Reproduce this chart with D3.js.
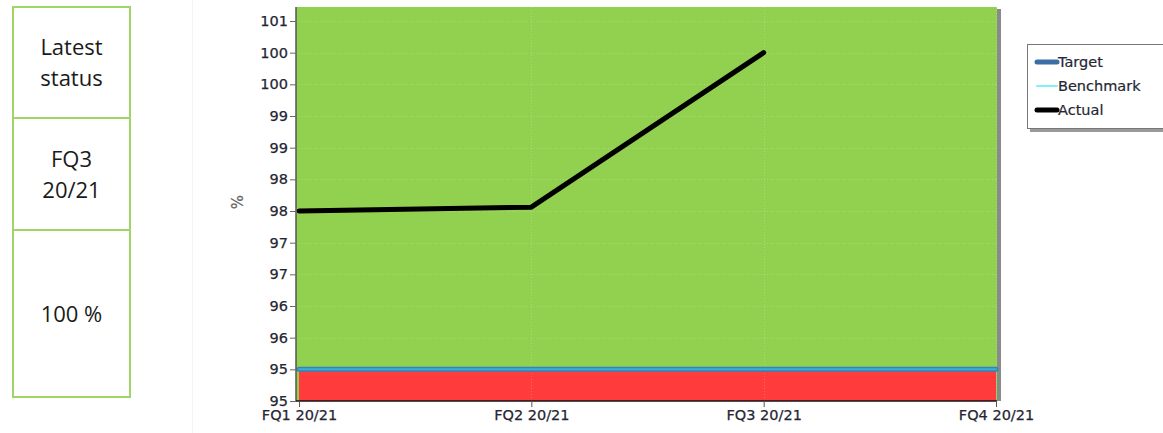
<!DOCTYPE html>
<html>
<head>
<meta charset="utf-8">
<script src="https://cdn.jsdelivr.net/npm/d3@7/dist/d3.min.js"></script>
<style>
  html, body { margin: 0; padding: 0; background: #fff; }
  svg { display: block; }
</style>
</head>
<body>
<svg id="chart" width="1163" height="433"></svg>
<script>
// Quarterly performance: actual vs target and benchmark (%)
const quarters = ["FQ1 20/21", "FQ2 20/21", "FQ3 20/21", "FQ4 20/21"];
const actual = [97.5, 97.56, 100, null];
const target = [95, 95, 95, 95];
const benchmark = [95, 95, 95, 95];
const yTicks = [94.5, 95, 95.5, 96, 96.5, 97, 97.5, 98, 98.5, 99, 99.5, 100, 100.5];
const yTickLabels = ["95", "95", "96", "96", "97", "97", "98", "98", "99", "99", "100", "100", "101"];
const statusLines = [["Latest", "status"], ["FQ3", "20/21"], ["100 %"]];
const legendItems = ["Target", "Benchmark", "Actual"];

const svg = d3.select("#chart");
const plot = { left: 296, right: 997, top: 7, bottom: 401 };
const labelColor = "#262633";

// ---- status panel on the left ----
const boxes = [{ y0: 7, y1: 118 }, { y0: 118, y1: 230 }, { y0: 230, y1: 397 }];
const panel = svg.append("g");
boxes.forEach((b, i) => {
  panel.append("rect")
    .attr("x", 13).attr("y", b.y0)
    .attr("width", 117).attr("height", b.y1 - b.y0)
    .attr("fill", "#fff").attr("stroke", "#9fd468").attr("stroke-width", 2);
  const lines = statusLines[i];
  const lh = 31;
  const mid = (b.y0 + b.y1) / 2;
  lines.forEach((t, j) => {
    panel.append("text")
      .attr("x", 71.5)
      .attr("y", mid + (j - (lines.length - 1) / 2) * lh + 8)
      .attr("text-anchor", "middle")
      .attr("font-family", "'Open Sans', sans-serif")
      .attr("font-size", 22)
      .attr("fill", "#1a1a1a")
      .text(t);
  });
});

// faint separator
svg.append("line").attr("x1", 192.5).attr("x2", 192.5).attr("y1", 0).attr("y2", 433)
  .attr("stroke", "#f3f3f3");

// ---- scales ----
const x = d3.scalePoint().domain(quarters).range([299, 996]);
const y = d3.scaleLinear().domain([94.5, 100.5]).range([plot.bottom, 21]);

// plot background and shadow
svg.append("rect").attr("x", plot.right).attr("y", plot.top + 2)
  .attr("width", 4).attr("height", plot.bottom - plot.top - 2).attr("fill", "#8a8a8a");
svg.append("rect").attr("x", plot.left).attr("y", plot.top)
  .attr("width", plot.right - plot.left).attr("height", plot.bottom - plot.top)
  .attr("fill", "#92d050");

// red band below target
const redArea = d3.area()
  .x((d, i) => x(quarters[i]))
  .y0(plot.bottom)
  .y1(d => y(d));
svg.append("path").datum(target).attr("d", redArea).attr("fill", "#ff3b3b");

// gridlines
const grid = svg.append("g").attr("stroke", "rgba(255,255,255,0.22)").attr("stroke-dasharray", "1,2");
grid.selectAll("line.h").data(yTicks.slice(1)).join("line")
  .attr("x1", plot.left).attr("x2", plot.right)
  .attr("y1", d => Math.round(y(d)) + 0.5).attr("y2", d => Math.round(y(d)) + 0.5);
grid.selectAll("line.v").data(quarters.slice(1)).join("line")
  .attr("x1", d => Math.round(x(d)) + 0.5).attr("x2", d => Math.round(x(d)) + 0.5)
  .attr("y1", plot.top).attr("y2", plot.bottom);

// series lines
const line = d3.line()
  .defined(d => d != null)
  .x((d, i) => x(quarters[i]))
  .y(d => y(d));
svg.append("path").datum(target).attr("d", line).attr("fill", "none")
  .attr("stroke", "#2f86b8").attr("stroke-width", 5).attr("stroke-linecap", "round");
svg.append("path").datum(benchmark).attr("d", line).attr("fill", "none")
  .attr("stroke", "#3aaed6").attr("stroke-width", 2).attr("stroke-linecap", "round");
svg.append("path").datum(actual).attr("d", line).attr("fill", "none")
  .attr("stroke", "#000").attr("stroke-width", 5)
  .attr("stroke-linecap", "round").attr("stroke-linejoin", "round");

// ---- axes ----
const yAxis = d3.axisLeft(y).tickValues(yTicks)
  .tickFormat((d, i) => yTickLabels[i]).tickSize(6).tickPadding(2);
const gy = svg.append("g").attr("transform", `translate(${plot.left},0)`).call(yAxis);
gy.select(".domain").attr("stroke", "#555").attr("stroke-width", 1.5)
  .attr("d", `M0,${plot.top}V${plot.bottom}`);
gy.selectAll(".tick line").attr("stroke", "#666");
gy.selectAll(".tick text").attr("font-family", "'DejaVu Sans', sans-serif")
  .attr("font-size", 14.5).attr("fill", labelColor)
  .attr("stroke", labelColor).attr("stroke-width", 0.25);

const xAxis = d3.axisBottom(x).tickSize(6).tickPadding(3);
const gx = svg.append("g").attr("transform", `translate(0,${plot.bottom})`).call(xAxis);
gx.select(".domain").attr("stroke", "#111").attr("stroke-width", 1.5)
  .attr("d", `M${plot.left},0H${plot.right}`);
gx.selectAll(".tick line").attr("stroke", "#555");
gx.selectAll(".tick text").attr("font-family", "'DejaVu Sans', sans-serif")
  .attr("font-size", 14.5).attr("fill", labelColor)
  .attr("stroke", labelColor).attr("stroke-width", 0.25);

// axis title
svg.append("text")
  .attr("transform", "translate(243,202) rotate(-90)")
  .attr("text-anchor", "middle")
  .attr("font-family", "'DejaVu Sans', sans-serif")
  .attr("font-size", 15).attr("fill", "#666")
  .attr("stroke", "#666").attr("stroke-width", 0.25)
  .text("%");

// ---- legend ----
const lg = svg.append("g");
lg.append("rect").attr("x", 1030).attr("y", 47).attr("width", 136).attr("height", 85).attr("fill", "#999");
lg.append("rect").attr("x", 1027.5).attr("y", 44.5).attr("width", 136).attr("height", 84)
  .attr("fill", "#fff").attr("stroke", "#777");
const legendStyles = [
  { color: "#3b6ea5", width: 5 },
  { color: "#80f0ff", width: 2 },
  { color: "#000", width: 5 }
];
legendItems.forEach((name, i) => {
  const yy = 62 + i * 24;
  lg.append("line").attr("x1", 1037).attr("x2", 1057).attr("y1", yy).attr("y2", yy)
    .attr("stroke", legendStyles[i].color).attr("stroke-width", legendStyles[i].width)
    .attr("stroke-linecap", "round");
  lg.append("text").attr("x", 1058).attr("y", yy + 5)
    .attr("font-family", "'DejaVu Sans', sans-serif").attr("font-size", 14.5)
    .attr("fill", labelColor).attr("stroke", labelColor).attr("stroke-width", 0.2)
    .text(name);
});
</script>
</body>
</html>
